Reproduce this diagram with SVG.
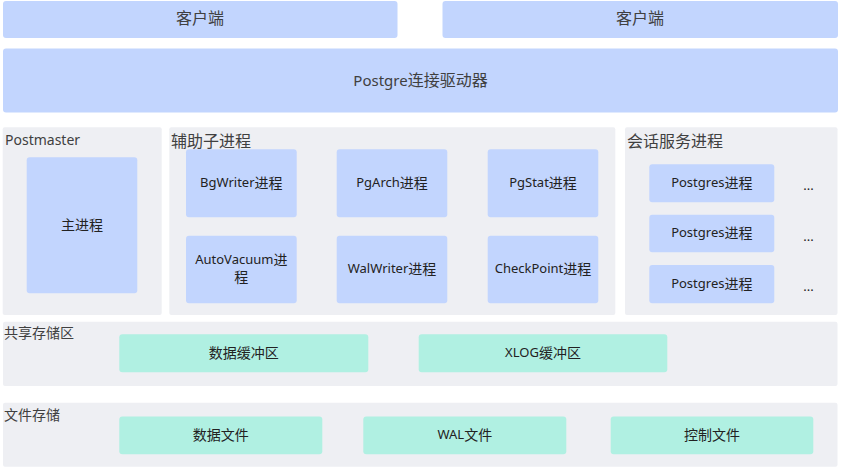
<svg xmlns="http://www.w3.org/2000/svg" width="843" height="469" viewBox="0 0 843 469">
<style>
  .blue { fill: #c2d5fe; }
  .grey { fill: #eeeff3; }
  .teal { fill: #b0f0e2; }
  text { font-family: "Noto Sans", "Noto Sans CJK SC", sans-serif; }
  .lbl { fill: #222222; font-size: 13px; text-anchor: middle; dominant-baseline: central; }
  .cjk { font-size: 14px; }
  .big { fill: #404040; font-size: 15px; text-anchor: middle; dominant-baseline: central; }
  .bigc { font-size: 16px; }
  .title { fill: #404040; font-size: 14px; }
  .ttl16 { font-size: 16px; }
  .dots { fill: #222222; font-size: 13px; text-anchor: middle; }
</style>

<g id="client1">
  <rect class="blue" x="3" y="1" width="394.5" height="37" rx="3"/>
  <text class="big bigc" x="200" y="18">客户端</text>
</g>
<g id="client2">
  <rect class="blue" x="442.5" y="1" width="395.5" height="37" rx="3"/>
  <text class="big bigc" x="640" y="18">客户端</text>
</g>
<g id="driver">
  <rect class="blue" x="3" y="48.5" width="835" height="64" rx="3"/>
  <text class="big" x="420.5" y="79.5">Postgre<tspan class="bigc">连接驱动器</tspan></text>
</g>

<g id="postmaster">
  <rect class="grey" x="2.7" y="127.3" width="159" height="187.7" rx="2"/>
  <text class="title" x="5" y="144.5" font-size="13">Postmaster</text>
</g>
<g id="main-process">
  <rect class="blue" x="26.7" y="157.3" width="110.6" height="136" rx="3"/>
  <text class="lbl cjk" x="82" y="224.5">主进程</text>
</g>

<g id="aux">
  <rect class="grey" x="169.3" y="127.3" width="446" height="187.7" rx="2"/>
  <text class="title ttl16" x="171" y="146.5">辅助子进程</text>
</g>
<g id="bgwriter">
  <rect class="blue" x="186" y="149.3" width="110.7" height="68" rx="3"/>
  <text class="lbl" x="241.3" y="182">BgWriter<tspan class="cjk">进程</tspan></text>
</g>
<g id="pgarch">
  <rect class="blue" x="336.7" y="149.3" width="110.6" height="68" rx="3"/>
  <text class="lbl" x="392" y="182">PgArch<tspan class="cjk">进程</tspan></text>
</g>
<g id="pgstat">
  <rect class="blue" x="487.7" y="149.3" width="110.6" height="68" rx="3"/>
  <text class="lbl" x="543" y="182">PgStat<tspan class="cjk">进程</tspan></text>
</g>
<g id="autovacuum">
  <rect class="blue" x="186" y="235.7" width="110.7" height="67.6" rx="3"/>
  <text class="lbl" x="241.3" y="259">AutoVacuum<tspan class="cjk">进</tspan></text>
  <text class="lbl cjk" x="241.3" y="276.5">程</text>
</g>
<g id="walwriter">
  <rect class="blue" x="336.7" y="235.7" width="110.6" height="67.6" rx="3"/>
  <text class="lbl" x="392" y="268">WalWriter<tspan class="cjk">进程</tspan></text>
</g>
<g id="checkpoint">
  <rect class="blue" x="487.7" y="235.7" width="110.6" height="67.6" rx="3"/>
  <text class="lbl" x="543" y="268">CheckPoint<tspan class="cjk">进程</tspan></text>
</g>

<g id="session">
  <rect class="grey" x="625" y="127.3" width="212.5" height="187.7" rx="2"/>
  <text class="title ttl16" x="627" y="146.5">会话服务进程</text>
</g>
<g id="postgres1">
  <rect class="blue" x="649.3" y="164.3" width="125" height="38" rx="3"/>
  <text class="lbl" x="711.8" y="182">Postgres<tspan class="cjk">进程</tspan></text>
  <text class="dots" x="808.5" y="190">...</text>
</g>
<g id="postgres2">
  <rect class="blue" x="649.3" y="214.7" width="125" height="37.6" rx="3"/>
  <text class="lbl" x="711.8" y="232">Postgres<tspan class="cjk">进程</tspan></text>
  <text class="dots" x="808.5" y="240.5">...</text>
</g>
<g id="postgres3">
  <rect class="blue" x="649.3" y="265" width="125" height="38.3" rx="3"/>
  <text class="lbl" x="711.8" y="282.5">Postgres<tspan class="cjk">进程</tspan></text>
  <text class="dots" x="808.5" y="291">...</text>
</g>

<g id="shared">
  <rect class="grey" x="3" y="321.7" width="834.5" height="64.3" rx="2"/>
  <text class="title" x="4" y="338">共享存储区</text>
</g>
<g id="data-buffer">
  <rect class="teal" x="119.3" y="334.3" width="249" height="38" rx="3"/>
  <text class="lbl cjk" x="243.8" y="352">数据缓冲区</text>
</g>
<g id="xlog-buffer">
  <rect class="teal" x="418.7" y="334.3" width="248.6" height="38" rx="3"/>
  <text class="lbl" x="543" y="352">XLOG<tspan class="cjk">缓冲区</tspan></text>
</g>

<g id="file-storage">
  <rect class="grey" x="3" y="402.7" width="834.5" height="64" rx="2"/>
  <text class="title" x="4" y="420">文件存储</text>
</g>
<g id="data-file">
  <rect class="teal" x="119.3" y="416.5" width="203" height="37.8" rx="3"/>
  <text class="lbl cjk" x="220.8" y="434">数据文件</text>
</g>
<g id="wal-file">
  <rect class="teal" x="363.3" y="416.5" width="203" height="37.8" rx="3"/>
  <text class="lbl" x="464.8" y="434">WAL<tspan class="cjk">文件</tspan></text>
</g>
<g id="control-file">
  <rect class="teal" x="610.7" y="416.5" width="202.6" height="37.8" rx="3"/>
  <text class="lbl cjk" x="712" y="434">控制文件</text>
</g>

<g id="connectors"></g>
</svg>
